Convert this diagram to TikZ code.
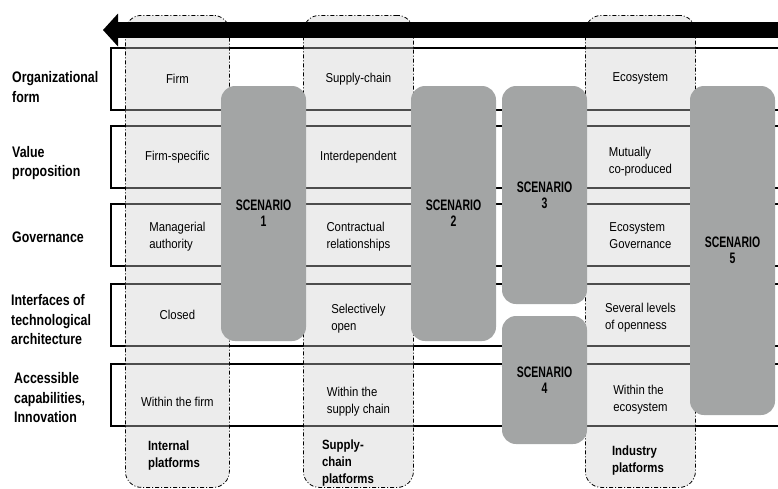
\documentclass[tikz,border=0pt]{standalone}
\usepackage{fontspec}
\setmainfont{Liberation Sans}
\newfontfamily\cellfont{Liberation Sans}[FakeStretch=0.88]
\newfontfamily\labfont{Liberation Sans}[FakeStretch=0.81]
\newfontfamily\platfont{Liberation Sans}[FakeStretch=0.85]
\newfontfamily\scenfont{Liberation Sans}[FakeStretch=0.69]
\usepackage{xcolor}
\usetikzlibrary{arrows.meta,positioning}
\definecolor{scengray}{RGB}{163,165,165}

\begin{document}
\begin{tikzpicture}[x=1pt,y=-1pt,every node/.style={font=\cellfont\fontsize{12.9}{17}\selectfont},
  rowbox/.style={draw,line width=1.6pt,anchor=north west,minimum width=700pt,minimum height=62pt},
  platcol/.style={draw,line width=0.8pt,dash pattern=on 4pt off 2pt on 1pt off 2pt,rounded corners=16pt,fill=black!20,fill opacity=0.38,anchor=north west,minimum height=472pt},
  scenbox/.style={fill=scengray,rounded corners=14pt,minimum width=85pt,align=center,font=\scenfont\fontsize{15.2}{16}\selectfont\bfseries},
  rowlabel/.style={anchor=west,align=left,inner sep=0pt,font=\labfont\fontsize{15.3}{19.5}\selectfont\bfseries},
  cell/.style={align=left},
  platlabel/.style={align=left,font=\platfont\fontsize{13.4}{17}\selectfont\bfseries}]
\useasboundingbox (0,0) rectangle (778,488);
\clip (0,0) rectangle (778,488);
% rows
\node[rowbox] (orgrow) at (110,47) {};
\node[rowbox] (valrow) at (110,125) {};
\node[rowbox] (govrow) at (110,203) {};
\node[rowbox] (introw) at (110,283) {};
\node[rowbox] (caprow) at (110,363) {};
% platform columns
\node[platcol,minimum width=104pt] (intcol) at (125,15) {};
\node[platcol,minimum width=110pt] (supcol) at (303,15) {};
\node[platcol,minimum width=110pt] (indcol) at (585,15) {};
% time arrow
\coordinate (timetail) at (800,30);
\coordinate (timetip) at (103,30);
\draw[line width=16pt,-{Triangle[length=15pt,width=33pt,line width=0pt]}] (timetail) -- (timetip);
% scenarios
\node[scenbox,minimum height=255pt] (scen1) at (263.5,213.5) {SCENARIO\\1};
\node[scenbox,minimum height=255pt] (scen2) at (453.5,213.5) {SCENARIO\\2};
\node[scenbox,minimum height=218pt] (scen3) at (544.5,195) {SCENARIO\\3};
\node[scenbox,minimum height=128pt] (scen4) at (544.5,380) {SCENARIO\\4};
\node[scenbox,minimum height=329pt] (scen5) at (732.5,250.5) {SCENARIO\\5};
% row labels
\node[rowlabel] (orglab) at (12,87) {Organizational\\form};
\node[rowlabel] (vallab) at (12,163) {Value\\proposition};
\node[rowlabel] (govlab) at (12,237) {Governance};
\node[rowlabel] (intlab) at (11,320) {Interfaces of\\technological\\architecture};
\node[rowlabel] (caplab) at (14,398) {Accessible\\capabilities,\\Innovation};
% cells
\node[cell] (firm) at (intcol.center |- orgrow.center) {Firm};
\node[cell] (firmspec) at (intcol.center |- valrow.center) {Firm-specific};
\node[cell,yshift=-2pt] (manauth) at (intcol.center |- govrow.center) {Managerial\\authority};
\node[cell] (closed) at (intcol.center |- introw.center) {Closed};
\node[cell,yshift=-7pt] (infirm) at (intcol.center |- caprow.center) {Within the firm};
\node[cell] (supchain) at (supcol.center |- orgrow.center) {Supply-chain};
\node[cell] (interdep) at (supcol.center |- valrow.center) {Interdependent};
\node[cell,yshift=-2pt] (contract) at (supcol.center |- govrow.center) {Contractual\\relationships};
\node[cell,yshift=-4pt] (selopen) at (supcol.center |- introw.center) {Selectively\\open};
\node[cell,yshift=-7pt] (insup) at (supcol.center |- caprow.center) {Within the\\supply chain};
\node[cell] (ecosys) at (indcol.center |- orgrow.center) {Ecosystem};
\node[cell,yshift=-5pt] (mutual) at (indcol.center |- valrow.center) {Mutually\\co-produced};
\node[cell,yshift=-1pt] (ecogov) at (indcol.center |- govrow.center) {Ecosystem\\Governance};
\node[cell,yshift=-3pt] (levels) at (indcol.center |- introw.center) {Several levels\\of openness};
\node[cell,yshift=-5pt] (ineco) at (indcol.center |- caprow.center) {Within the\\ecosystem};
% platform labels
\node[platlabel] (intplat) at (174,456) {Internal\\platforms};
\node[platlabel] (supplat) at (348,463) {Supply-\\chain\\platforms};
\node[platlabel] (indplat) at (638,461) {Industry\\platforms};
\end{tikzpicture}
\end{document}
